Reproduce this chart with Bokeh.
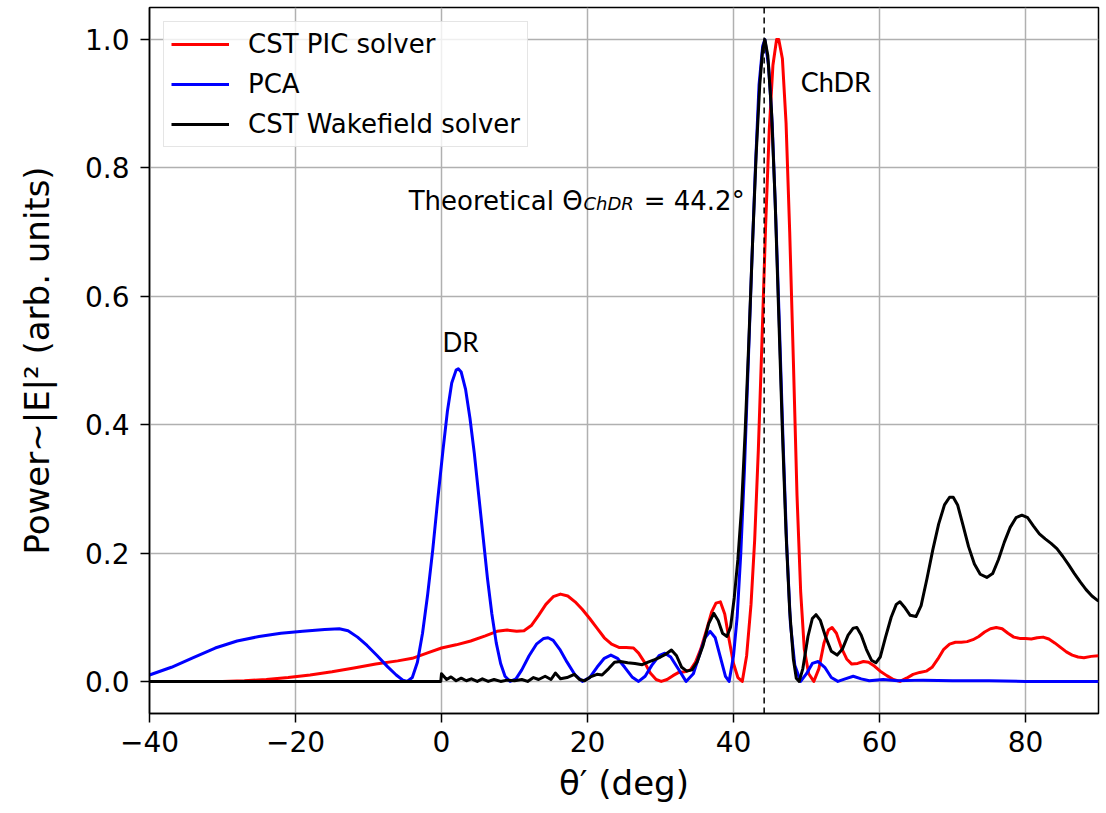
from bokeh.plotting import figure
from bokeh.models import Range1d, FixedTicker, NumeralTickFormatter, Span, Label
from bokeh.embed import file_html
from bokeh.resources import INLINE

# ---------------- data ----------------
x_ticks = [-40, -20, 0, 20, 40, 60, 80]
y_ticks = [0.0, 0.2, 0.4, 0.6, 0.8, 1.0]
series_names = ["CST PIC solver", "PCA", "CST Wakefield solver"]
theta_chdr = 44.2

pic_x = [-40, -35, -30, -27, -24, -21, -18, -15, -12, -9, -6, -4, -2, 0, 2, 4, 6, 7.6, 9, 10.3,
         11.3, 12.3, 13.3, 14.3, 15.3, 16.3, 17.3, 18.3, 19.3, 20.3, 21.3, 22.3, 23.3, 24.3, 25.3,
         26.3, 27.0, 27.8, 28.6, 29.4, 30.1, 30.9, 31.7, 32.5, 33.3, 34.1, 34.8, 35.5, 36.3, 37.0,
         37.6, 38.2, 38.8, 39.4, 40.0, 40.6, 41.2, 41.8, 42.4, 42.9, 43.4, 43.9, 44.4, 44.9, 45.4,
         45.9, 46.2, 46.7, 47.2, 47.7, 48.2, 48.7, 49.2, 49.7, 50.3, 51.0, 51.7, 52.4, 53.0, 53.5,
         54.1, 54.8, 55.5, 56.2, 57.0, 57.8, 58.5, 59.3, 60.1, 61.0, 61.9, 62.8, 63.7, 64.6, 65.5,
         66.4, 67.2, 68.0, 68.8, 69.6, 70.4, 71.2, 72.0, 72.8, 73.6, 74.4, 75.2, 76.0, 76.8, 77.6,
         78.4, 79.2, 80.0, 80.8, 81.6, 82.4, 83.2, 84.0, 84.8, 85.6, 86.4, 87.2, 88.0, 89.0, 90.0]
pic_y = [0.0, 0.0, 0.0, 0.001, 0.003, 0.006, 0.010, 0.015, 0.021, 0.027, 0.032, 0.036, 0.044, 0.052,
         0.057, 0.063, 0.071, 0.078, 0.080, 0.078,
         0.079, 0.087, 0.103, 0.120, 0.132, 0.136, 0.133, 0.124, 0.112, 0.098, 0.083, 0.068, 0.058,
         0.053, 0.053,
         0.052, 0.044, 0.030, 0.013, 0.003, 0.000, 0.003, 0.009, 0.014, 0.015, 0.018, 0.030, 0.050,
         0.080, 0.108,
         0.122, 0.124, 0.105, 0.065, 0.028, 0.006, 0.000, 0.040, 0.120, 0.22, 0.36, 0.53, 0.71,
         0.86, 0.96,
         1.0, 1.0, 0.97, 0.87, 0.70, 0.50, 0.29, 0.14, 0.05, 0.012, 0.000, 0.020, 0.060, 0.080, 0.084,
         0.075, 0.052, 0.035, 0.027, 0.028, 0.031, 0.030, 0.024, 0.016, 0.009, 0.003, 0.000, 0.005,
         0.011, 0.014,
         0.016, 0.022, 0.035, 0.050, 0.058, 0.061, 0.061, 0.062, 0.065, 0.070, 0.077, 0.082, 0.084,
         0.082, 0.075,
         0.069, 0.067, 0.067, 0.066, 0.068, 0.069, 0.066, 0.060, 0.053, 0.046, 0.041, 0.038, 0.037,
         0.039, 0.040]

pca_x = [-40, -37, -34, -31, -28, -25, -22, -19, -16, -14, -12.8, -11.5, -10.2, -8.8, -7.4, -6.2,
         -5.3, -4.7, -4.0, -3.3, -2.6, -1.9, -1.2, -0.5, 0.2, 0.8, 1.4, 2.0, 2.3, 2.7, 3.3, 3.9, 4.5,
         5.1, 5.7, 6.3, 6.9, 7.5, 8.1, 8.7, 9.4, 10.2, 11.0, 12.0, 13.0, 14.0, 14.6, 15.3, 16.2, 17.2,
         18.3, 19.3, 20.3, 21.3, 22.3, 23.2, 24.1, 25.1, 26.1, 27.0, 27.9, 28.8, 29.8, 30.6, 31.4,
         32.4, 33.5, 34.5, 35.3, 36.1, 36.8, 37.5, 38.2, 38.9, 39.4, 40.0, 40.5, 41.0, 41.5, 42.0,
         42.5, 43.0, 43.5, 44.0, 44.3, 44.8, 45.3, 45.8, 46.3, 46.8, 47.3, 47.8, 48.4, 49.2, 50.0,
         50.8, 51.6, 52.5, 53.4, 54.3, 55.3, 56.4, 57.5, 58.6, 60.5, 62.5, 66, 70, 75, 80, 85, 90]
pca_y = [0.010, 0.022, 0.037, 0.052, 0.063, 0.070, 0.075, 0.078, 0.081, 0.082, 0.079, 0.069, 0.056,
         0.040, 0.023, 0.010,
         0.002, 0.000, 0.006, 0.030, 0.075, 0.135, 0.205, 0.285, 0.360, 0.420, 0.465, 0.485, 0.487,
         0.482, 0.455, 0.410, 0.355,
         0.290, 0.225, 0.160, 0.105, 0.060, 0.028, 0.008, 0.000, 0.004, 0.018, 0.040, 0.058, 0.067,
         0.068, 0.064, 0.050, 0.030,
         0.010, 0.000, 0.006, 0.022, 0.036, 0.041, 0.036, 0.022, 0.007, 0.000, 0.008, 0.025, 0.040,
         0.044, 0.038,
         0.020, 0.000, 0.012, 0.040, 0.068, 0.078, 0.068, 0.038, 0.008, 0.000, 0.040, 0.10, 0.20,
         0.33, 0.49,
         0.65, 0.80, 0.93, 0.99, 1.00, 0.96, 0.87, 0.72, 0.55, 0.37, 0.21, 0.09, 0.025, 0.000, 0.012,
         0.028, 0.031, 0.022, 0.006, 0.000, 0.004, 0.008, 0.004, 0.001, 0.003, 0.001, 0.002, 0.001,
         0.001, 0.000, 0.000, 0.000]

wake_x = [-40, -30, -20, -10, -0.1, 0.0, 0.7, 1.3, 2.0, 2.7, 3.4, 4.1, 4.9, 5.6, 6.4, 7.2, 8.1, 9.0,
          10.0, 11.0, 11.8, 12.6, 13.3, 14.2, 15.0, 15.6, 16.3, 17.2, 18.2, 18.9, 19.6, 20.4, 21.3,
          22.0, 22.9, 23.7, 24.5, 25.5, 26.5, 27.5, 28.3, 29.2, 30.0, 30.8, 31.5, 32.2, 32.9, 33.6,
          34.3, 35.0, 35.8, 36.6, 37.3, 37.9, 38.5, 39.1, 39.6, 40.1, 40.6, 41.1, 41.6, 42.1, 42.6,
          43.1, 43.6, 44.0, 44.3, 44.7, 45.2, 45.7, 46.2, 46.7, 47.2, 47.7, 48.2, 48.6, 49.0, 49.5,
          50.2, 50.8, 51.3, 51.9, 52.6, 53.4, 54.2, 54.9, 55.7, 56.4, 56.9, 57.5, 58.2, 58.9, 59.5,
          60.1, 60.8, 61.6, 62.3, 62.8, 63.4, 64.2, 65.0, 65.7, 66.5, 67.3, 68.1, 68.9, 69.6, 70.1,
          70.7, 71.4, 72.2, 73.0, 73.8, 74.7, 75.5, 76.3, 77.1, 77.9, 78.7, 79.5, 80.3, 81.1, 81.9,
          82.7, 83.5, 84.3, 85.1, 85.9, 86.7, 87.5, 88.3, 89.1, 90.0]
wake_y = [0.0, 0.0, 0.0, 0.0, 0.0, 0.012, 0.003, 0.007, 0.001, 0.005, 0.001, 0.004, 0.000, 0.004,
          0.000, 0.003, 0.000, 0.002,
          0.001, 0.003, 0.000, 0.006, 0.003, 0.008, 0.003, 0.013, 0.004, 0.006, 0.011, 0.003, 0.001,
          0.007, 0.011,
          0.010, 0.020, 0.030, 0.031, 0.029, 0.028, 0.026, 0.030, 0.034, 0.038, 0.043, 0.049, 0.040,
          0.022, 0.016,
          0.018, 0.030, 0.055, 0.090, 0.106, 0.095, 0.075, 0.070, 0.085, 0.13, 0.19, 0.27, 0.39,
          0.53, 0.68,
          0.82, 0.93, 0.985, 1.0, 0.975, 0.89, 0.75, 0.57, 0.39, 0.23, 0.11, 0.035, 0.005, 0.0, 0.02,
          0.07, 0.098, 0.104, 0.095, 0.070, 0.047, 0.041, 0.050, 0.072, 0.083, 0.084, 0.072, 0.050,
          0.033, 0.029,
          0.038, 0.068, 0.100, 0.120, 0.124, 0.116, 0.103, 0.101, 0.118, 0.160, 0.205, 0.245, 0.275,
          0.287, 0.287,
          0.275, 0.245, 0.210, 0.183, 0.167, 0.162, 0.168, 0.190, 0.217, 0.240, 0.255, 0.259, 0.255,
          0.242, 0.230,
          0.222, 0.215, 0.207, 0.195, 0.182, 0.168, 0.155, 0.143, 0.133, 0.125]

# ---------------- figure ----------------
p = figure(width=1106, height=813, x_range=Range1d(-40, 90), y_range=Range1d(-0.05, 1.05),
           output_backend="svg", toolbar_location=None,
           min_border_left=149, min_border_right=8, min_border_top=7, min_border_bottom=100)
p.background_fill_color = "white"
p.border_fill_color = "white"
p.outline_line_color = "black"
p.outline_line_width = 1.5
p.outline_line_alpha = 1.0

lw = 3
p.line(pic_x, pic_y, line_color="#ff0000", line_width=lw, line_join="round",
       legend_label=series_names[0])
p.line(pca_x, pca_y, line_color="#0000ff", line_width=lw, line_join="round",
       legend_label=series_names[1])
p.line(wake_x, wake_y, line_color="black", line_width=lw, line_join="round",
       legend_label=series_names[2])

p.add_layout(Span(location=theta_chdr, dimension="height", line_color="black",
                  line_dash="6 4", line_width=1.5))

# axes
p.xaxis.ticker = FixedTicker(ticks=x_ticks)
p.yaxis.ticker = FixedTicker(ticks=y_ticks)
p.yaxis.formatter = NumeralTickFormatter(format="0.0")
p.xaxis.major_label_overrides = {t: (("\u2212" + str(-t)) if t < 0 else str(t)) for t in x_ticks}
for ax in (p.xaxis, p.yaxis):
    ax.axis_line_color = "black"
    ax.axis_line_width = 1.5
    ax.major_tick_line_color = "black"
    ax.major_tick_line_width = 1.5
    ax.major_tick_out = 9
    ax.major_tick_in = 0
    ax.minor_tick_line_color = None
    ax.major_label_text_font = "DejaVu Sans"
    ax.major_label_text_font_size = "28px"
    ax.major_label_text_color = "black"
    ax.axis_label_text_font = "DejaVu Sans"
    ax.axis_label_text_font_size = "34px"
    ax.axis_label_text_font_style = "normal"
    ax.axis_label_text_color = "black"
p.xaxis.major_label_standoff = 8
p.yaxis.major_label_standoff = 11
p.xaxis.axis_label = "\u03b8\u2032 (deg)"
p.yaxis.axis_label = "Power\u223c|E|\u00b2 (arb. units)"
p.xaxis.axis_label_standoff = 8
p.yaxis.axis_label_standoff = 25

p.xgrid.grid_line_color = "#b0b0b0"
p.ygrid.grid_line_color = "#b0b0b0"
p.xgrid.grid_line_width = 1.5
p.ygrid.grid_line_width = 1.5

# annotations
ann_font = "DejaVu Sans"
p.add_layout(Label(x=-4.5, y=0.749, text="Theoretical \u0398", text_font=ann_font,
                   text_font_size="26px", text_baseline="alphabetic", text_color="black"))
p.add_layout(Label(x=19.45, y=0.744, text="ChDR", text_font=ann_font, text_font_style="italic",
                   text_font_size="18px", text_baseline="alphabetic", text_color="black"))
p.add_layout(Label(x=27.7, y=0.749, text="= 44.2\u00b0", text_font=ann_font,
                   text_font_size="26px", text_baseline="alphabetic", text_color="black"))
p.add_layout(Label(x=49.2, y=0.934, text="ChDR", text_font="Lato",
                   text_font_size="27px", text_baseline="middle", text_color="black"))
p.add_layout(Label(x=0.15, y=0.529, text="DR", text_font="Lato",
                   text_font_size="26px", text_baseline="middle", text_color="black"))

# legend
lg = p.legend[0]
lg.location = "top_left"
lg.label_text_font = "DejaVu Sans"
lg.label_text_font_size = "26px"
lg.label_text_color = "black"
lg.glyph_width = 58
lg.glyph_height = 30
lg.label_height = 30
lg.spacing = 10
lg.padding = 7
lg.margin = 14
lg.label_standoff = 19
lg.border_line_color = "#cccccc"
lg.border_line_width = 1.5
lg.background_fill_alpha = 0.8

open("out.html", "w").write(file_html(p, INLINE))
